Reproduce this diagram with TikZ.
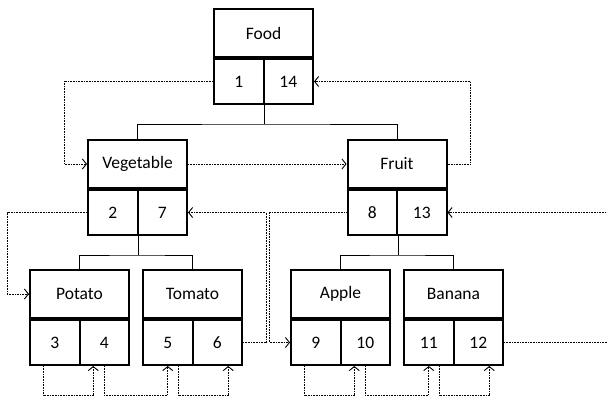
\documentclass[tikz,border=0pt]{standalone}
\usepackage{fontspec}
\setmainfont{Carlito}
\usetikzlibrary{arrows.meta, positioning}

\begin{document}
\begin{tikzpicture}[
    x=1pt, y=1pt,
    title/.style={rectangle, draw, line width=2pt, inner sep=0pt,
                  minimum width=99pt, minimum height=48pt,
                  font=\fontsize{17.5}{20}\selectfont},
    cell/.style={rectangle, draw, line width=2pt, inner sep=0pt,
                  minimum width=49.5pt, minimum height=45pt,
                  font=\fontsize{17.5}{20}\selectfont},
    tree/.style={line width=0.8pt},
    visit/.style={dash pattern=on 1pt off 0.6pt, line width=0.9pt,
                  -{Straight Barb[length=4pt, width=10pt]}}
]
    \useasboundingbox (0,0) rectangle (607,-398);
    \clip (0,0) rectangle (607,-398);

    % Food
    \node[title] (food) at (263.5,-33) {Food};
    \node[cell, below right=0pt and 0pt of food.south west] (food-l) {1};
    \node[cell, below left=0pt and 0pt of food.south east] (food-r) {14};

    % Second level
    \node[title] (veg) at (137.5,-164) {Vegetable};
    \node[cell, below right=0pt and 0pt of veg.south west] (veg-l) {2};
    \node[cell, below left=0pt and 0pt of veg.south east] (veg-r) {7};

    \node[title] (fruit) at (397,-164) {Fruit};
    \node[cell, below right=0pt and 0pt of fruit.south west] (fruit-l) {8};
    \node[cell, below left=0pt and 0pt of fruit.south east] (fruit-r) {13};

    % Leaves
    \node[title] (potato) at (79.5,-294) {Potato};
    \node[cell, below right=0pt and 0pt of potato.south west] (potato-l) {3};
    \node[cell, below left=0pt and 0pt of potato.south east] (potato-r) {4};

    \node[title] (tomato) at (192.5,-294) {Tomato};
    \node[cell, below right=0pt and 0pt of tomato.south west] (tomato-l) {5};
    \node[cell, below left=0pt and 0pt of tomato.south east] (tomato-r) {6};

    \node[title] (apple) at (340.5,-294) {Apple};
    \node[cell, below right=0pt and 0pt of apple.south west] (apple-l) {9};
    \node[cell, below left=0pt and 0pt of apple.south east] (apple-r) {10};

    \node[title] (banana) at (453.5,-294) {Banana};
    \node[cell, below right=0pt and 0pt of banana.south west] (banana-l) {11};
    \node[cell, below left=0pt and 0pt of banana.south east] (banana-r) {12};

    % Tree lines
    \coordinate (food-j) at ([yshift=-19pt]food-l.south east);
    \coordinate (veg-j) at ([yshift=-19pt]veg-l.south east);
    \coordinate (fruit-j) at ([yshift=-19pt]fruit-l.south east);
    \draw[tree] (food-l.south east) -- (food-j);
    \draw[tree] (veg.north) |- (food-j) -| (fruit.north);
    \draw[tree] (veg-l.south east) -- (veg-j);
    \draw[tree] (potato.north) |- (veg-j) -| (tomato.north);
    \draw[tree] (fruit-l.south east) -- (fruit-j);
    \draw[tree] (apple.north) |- (fruit-j) -| (banana.north);

    % Traversal
    \draw[visit] (food-l.west) -| ([xshift=-23pt]veg.west) -- (veg.west);
    \draw[visit] (veg.east) -- (fruit.west);
    \draw[visit] (fruit.east) -- ++(23,0) |- (food-r.east);
    \draw[visit] (veg-l.west) -| ([xshift=-22pt]potato.west) -- (potato.west);
    \draw[visit] ([xshift=-11pt]potato-l.south) -- ++(0,-29) -| ([xshift=-11pt]potato-r.south);
    \draw[visit] (potato-r.south) -- ++(0,-29) -| (tomato-l.south);
    \draw[visit] ([xshift=11pt]tomato-l.south) -- ++(0,-29) -| ([xshift=11pt]tomato-r.south);
    \draw[visit] (tomato-r.east) -- ++(23,0) |- (veg-r.east);
    \draw[visit] (fruit-l.west) -| ([xshift=-21pt]apple-l.west) -- (apple-l.west);
    \draw[visit] ([xshift=-11pt]apple-l.south) -- ++(0,-29) -| ([xshift=-11pt]apple-r.south);
    \draw[visit] (apple-r.south) -- ++(0,-29) -| (banana-l.south);
    \draw[visit] ([xshift=11pt]banana-l.south) -- ++(0,-29) -| ([xshift=11pt]banana-r.south);
    \draw[visit] (banana-r.east) -- ++(130,0) |- (fruit-r.east);
\end{tikzpicture}
\end{document}
